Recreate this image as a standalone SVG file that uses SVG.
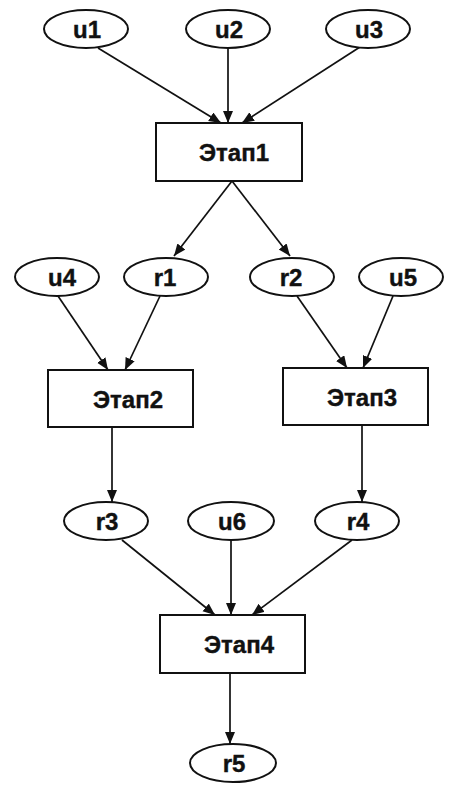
<svg xmlns="http://www.w3.org/2000/svg" width="449" height="785" viewBox="0 0 449 785">
<style>
  .n ellipse, .n rect { fill: #ffffff; stroke: #111111; stroke-width: 2; }
  .n text { font-family: "Liberation Sans", Arial, sans-serif; font-weight: bold; font-size: 24px; fill: #111111; stroke: #111111; stroke-width: 0.4; text-anchor: middle; }
  .c line { stroke: #111111; stroke-width: 1.7; marker-end: url(#ah); }
</style>
<defs>
  <marker id="ah" markerUnits="userSpaceOnUse" markerWidth="13" markerHeight="11" refX="12" refY="5" orient="auto">
    <path d="M0,0 L12,5 L0,10 z" fill="#111111"/>
  </marker>
</defs>
<rect width="449" height="785" fill="#ffffff"/>
<g id="connectors" class="c">
  <line x1="98" y1="48" x2="221" y2="123"/>
  <line x1="228" y1="48" x2="228" y2="123"/>
  <line x1="360" y1="47" x2="242" y2="123"/>
  <line x1="232" y1="181" x2="174" y2="256"/>
  <line x1="232" y1="181" x2="290" y2="256"/>
  <line x1="58" y1="296" x2="108" y2="370"/>
  <line x1="160" y1="296" x2="125" y2="370"/>
  <line x1="297" y1="296" x2="347" y2="368"/>
  <line x1="393" y1="296" x2="363" y2="368"/>
  <line x1="112" y1="427" x2="112" y2="502"/>
  <line x1="362" y1="425" x2="362" y2="502"/>
  <line x1="122" y1="540" x2="215" y2="615"/>
  <line x1="231" y1="540" x2="231" y2="615"/>
  <line x1="352" y1="540" x2="252" y2="615"/>
  <line x1="230" y1="673" x2="230" y2="744"/>
</g>
<g id="u1" class="n"><ellipse cx="86" cy="29" rx="42" ry="19"/><text x="87" y="38">u1</text></g>
<g id="u2" class="n"><ellipse cx="228" cy="29" rx="42" ry="19"/><text x="229" y="38">u2</text></g>
<g id="u3" class="n"><ellipse cx="368" cy="29" rx="42" ry="19"/><text x="369" y="38">u3</text></g>
<g id="etap1" class="n"><rect x="156" y="123" width="146" height="58"/><text x="234" y="161">Этап1</text></g>
<g id="u4" class="n"><ellipse cx="57" cy="277" rx="42" ry="19"/><text x="62" y="286">u4</text></g>
<g id="r1" class="n"><ellipse cx="166" cy="277" rx="42" ry="19"/><text x="165" y="286">r1</text></g>
<g id="r2" class="n"><ellipse cx="292" cy="277" rx="42" ry="19"/><text x="291" y="286">r2</text></g>
<g id="u5" class="n"><ellipse cx="401" cy="277" rx="42" ry="19"/><text x="403" y="286">u5</text></g>
<g id="etap2" class="n"><rect x="48" y="370" width="145" height="57"/><text x="128" y="408">Этап2</text></g>
<g id="etap3" class="n"><rect x="283" y="368" width="145" height="57"/><text x="362" y="406">Этап3</text></g>
<g id="r3" class="n"><ellipse cx="106" cy="521" rx="42" ry="19"/><text x="107" y="530">r3</text></g>
<g id="u6" class="n"><ellipse cx="231" cy="521" rx="43" ry="19"/><text x="232" y="530">u6</text></g>
<g id="r4" class="n"><ellipse cx="357" cy="521" rx="42" ry="19"/><text x="358" y="530">r4</text></g>
<g id="etap4" class="n"><rect x="160" y="615" width="145" height="58"/><text x="239" y="653">Этап4</text></g>
<g id="r5" class="n"><ellipse cx="233" cy="763" rx="43" ry="19"/><text x="234" y="772">r5</text></g>
</svg>
